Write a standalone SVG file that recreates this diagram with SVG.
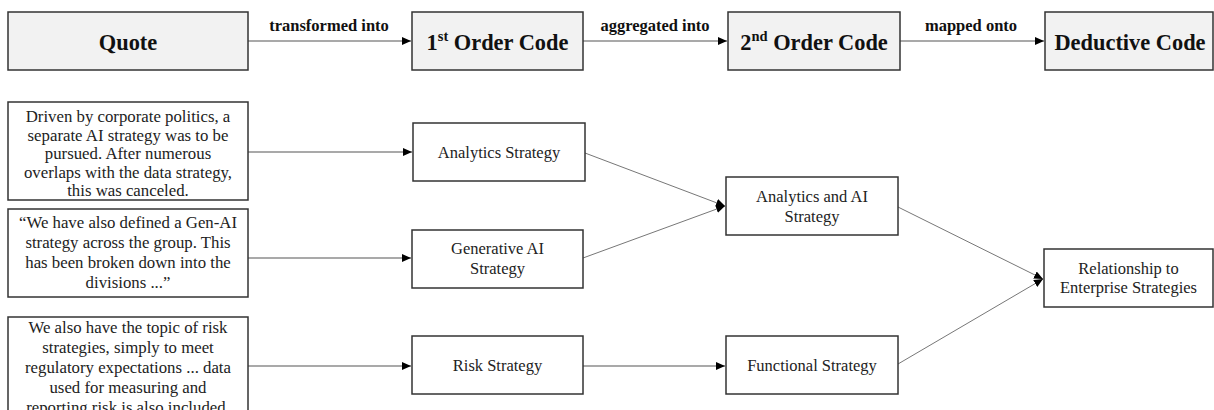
<svg xmlns="http://www.w3.org/2000/svg" width="1214" height="410" viewBox="0 0 1214 410">
<style>
.hbox{fill:#f2f2f2;stroke:#333;stroke-width:1.5}
.box{fill:#fff;stroke:#333;stroke-width:1.5}
.ht{font-family:"Liberation Serif",serif;font-weight:bold;font-size:22.4px;fill:#111;text-anchor:middle}
.lt{font-family:"Liberation Serif",serif;font-weight:bold;font-size:16.5px;fill:#111;text-anchor:middle}
.qt{font-family:"Liberation Serif",serif;font-size:16.8px;fill:#222;text-anchor:middle}
.nt{font-family:"Liberation Serif",serif;font-size:16.5px;fill:#222;text-anchor:middle}
.c{stroke:#555;stroke-width:1.2;fill:none;marker-end:url(#ah)}
.d{stroke:#777;stroke-width:1;fill:none;marker-end:url(#ah)}
</style>
<defs>
<marker id="ah" markerUnits="userSpaceOnUse" markerWidth="9" markerHeight="8" refX="9" refY="4" orient="auto">
<path d="M0,0 L9,4 L0,8 Z" fill="#000"/>
</marker>
</defs>
<g id="connectors">
<line class="c" x1="248" y1="41" x2="411" y2="41"/>
<line class="c" x1="583" y1="41" x2="727" y2="41"/>
<line class="c" x1="900" y1="41" x2="1044" y2="41"/>
<line class="c" x1="248" y1="152" x2="412" y2="152"/>
<line class="c" x1="248" y1="258" x2="411" y2="258"/>
<line class="c" x1="248" y1="366" x2="411" y2="366"/>
<line class="c" x1="583" y1="366" x2="725" y2="366"/>
<line class="d" x1="585" y1="153" x2="725" y2="206"/>
<line class="d" x1="583" y1="258" x2="725" y2="206"/>
<line class="d" x1="898" y1="207" x2="1043" y2="279"/>
<line class="d" x1="898" y1="364" x2="1043" y2="279"/>
<text class="lt" x="329" y="31">transformed into</text>
<text class="lt" x="655" y="31">aggregated into</text>
<text class="lt" x="971" y="31">mapped onto</text>
</g>
<g id="quote-header">
<rect class="hbox" x="8" y="12" width="240" height="58"/>
<text class="ht" x="128" y="50">Quote</text>
</g>
<g id="first-order-header">
<rect class="hbox" x="412" y="12" width="171" height="58"/>
<text class="ht" x="497.5" y="50">1<tspan font-size="14.5" dy="-9">st</tspan><tspan dy="9"> Order Code</tspan></text>
</g>
<g id="second-order-header">
<rect class="hbox" x="728" y="12" width="172" height="58"/>
<text class="ht" x="814" y="50">2<tspan font-size="14.5" dy="-9">nd</tspan><tspan dy="9"> Order Code</tspan></text>
</g>
<g id="deductive-header">
<rect class="hbox" x="1045" y="12" width="168" height="58"/>
<text class="ht" x="1130" y="50">Deductive Code</text>
</g>
<g id="quote1">
<rect class="box" x="8" y="102" width="240" height="98"/>
<text class="qt" x="128" y="122">Driven by corporate politics, a</text>
<text class="qt" x="128" y="140.5">separate AI strategy was to be</text>
<text class="qt" x="128" y="159">pursued. After numerous</text>
<text class="qt" x="128" y="177.5">overlaps with the data strategy,</text>
<text class="qt" x="128" y="196">this was canceled.</text>
</g>
<g id="quote2">
<rect class="box" x="8" y="209" width="240" height="88"/>
<text class="qt" x="128" y="228">“We have also defined a Gen-AI</text>
<text class="qt" x="128" y="248">strategy across the group. This</text>
<text class="qt" x="128" y="268">has been broken down into the</text>
<text class="qt" x="128" y="288">divisions ...”</text>
</g>
<g id="quote3">
<rect class="box" x="8" y="317" width="240" height="110"/>
<text class="qt" x="128" y="333">We also have the topic of risk</text>
<text class="qt" x="128" y="353">strategies, simply to meet</text>
<text class="qt" x="128" y="373">regulatory expectations ... data</text>
<text class="qt" x="128" y="393">used for measuring and</text>
<text class="qt" x="128" y="413">reporting risk is also included.</text>
</g>
<g id="analytics-strategy">
<rect class="box" x="413" y="123" width="172" height="58"/>
<text class="nt" x="499" y="158">Analytics Strategy</text>
</g>
<g id="generative-ai-strategy">
<rect class="box" x="412" y="230" width="171" height="58"/>
<text class="nt" x="497.5" y="254">Generative AI</text>
<text class="nt" x="497.5" y="274">Strategy</text>
</g>
<g id="risk-strategy">
<rect class="box" x="412" y="336" width="171" height="58"/>
<text class="nt" x="497.5" y="371">Risk Strategy</text>
</g>
<g id="analytics-ai-strategy">
<rect class="box" x="726" y="177" width="172" height="58"/>
<text class="nt" x="812" y="202">Analytics and AI</text>
<text class="nt" x="812" y="222">Strategy</text>
</g>
<g id="functional-strategy">
<rect class="box" x="726" y="336" width="172" height="58"/>
<text class="nt" x="812" y="371">Functional Strategy</text>
</g>
<g id="relationship">
<rect class="box" x="1044" y="249" width="169" height="58"/>
<text class="nt" x="1128.5" y="274">Relationship to</text>
<text class="nt" x="1128.5" y="293">Enterprise Strategies</text>
</g>
</svg>
